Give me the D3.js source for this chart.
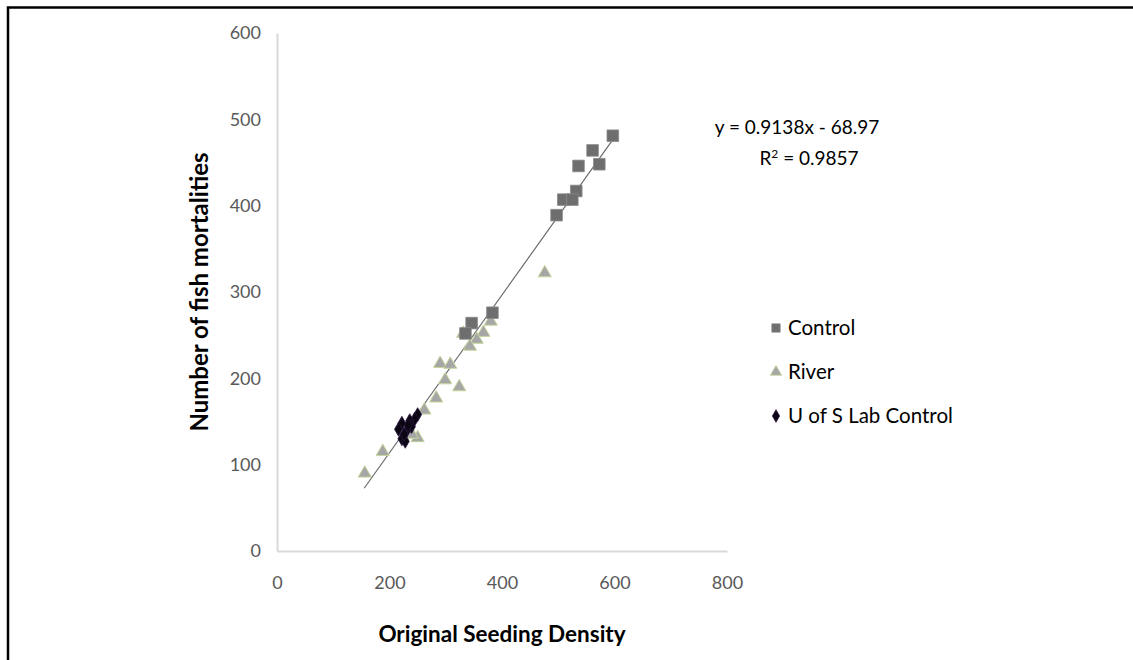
<!DOCTYPE html>
<html>
<head>
<meta charset="utf-8">
<script src="https://cdn.jsdelivr.net/npm/d3@7"></script>
<style>
  body { margin: 0; background: #fff; }
  text { font-family: Lato, "Open Sans", sans-serif; }
</style>
</head>
<body>
<div class="canvas"></div>
<script>
// Data
const controlPts = [[597,481],[561,464],[536,446],[573,448],[532,417],[509,407],[525,407],[497,389],[383,276],[346,264],[335,252]];
const riverPts = [[476,322],[380,266],[367,253],[355,245],[343,237],[331,252],[290,217],[308,216],[299,198],[324,190],[283,177],[262,163],[250,131],[240,135],[188,115],[156,90]];
const labPts = [[250,158],[245,153],[236,151],[239,144],[222,148],[231,140],[216,141],[222,130],[228,127],[226,135],[233,146]];
const xTicks = [0, 200, 400, 600, 800];
const yTicks = [0, 100, 200, 300, 400, 500, 600];
const trendSlope = 0.9138;
const trendIntercept = -68.97;
const trendRange = [155, 597];
const legendNames = ['Control', 'River', 'U of S Lab Control'];

// Graph set up
const svgWidth = 1133;
const svgHeight = 660;
const margin = {top: 33, right: 406, bottom: 109, left: 277};
const graphWidth = svgWidth - margin.left - margin.right;
const graphHeight = svgHeight - margin.top - margin.bottom;

const svg = d3.select('.canvas')
    .append('svg')
    .attr('width', svgWidth)
    .attr('height', svgHeight);

// outer frame (top and left edges visible)
svg.append('path')
    .attr('d', 'M8,662 L8,7.5 L1140,7.5')
    .attr('fill', 'none')
    .attr('stroke', '#000')
    .attr('stroke-width', 2.5);

const graph = svg.append('g')
    .attr('transform', `translate(${margin.left},${margin.top})`);

// Scales
const x = d3.scaleLinear().domain([0, 800]).range([0, graphWidth]);
const y = d3.scaleLinear().domain([0, 600]).range([graphHeight, 0]);

// Axes
const xAxis = d3.axisBottom(x).tickValues(xTicks).tickSize(0).tickPadding(25);
const yAxis = d3.axisLeft(y).tickValues(yTicks).tickSize(0).tickPadding(16);

const xAxisGroup = graph.append('g')
    .attr('transform', `translate(0,${graphHeight})`)
    .call(xAxis);
const yAxisGroup = graph.append('g').call(yAxis);

[xAxisGroup, yAxisGroup].forEach(g => {
    g.select('.domain').attr('stroke', '#d9d9d9').attr('stroke-width', 2);
    g.selectAll('text')
        .attr('fill', '#595959')
        .style('font-size', '18px');
});

// Axis titles
svg.append('text')
    .attr('x', margin.left + graphWidth / 2)
    .attr('y', 642)
    .attr('text-anchor', 'middle')
    .style('font-size', '22.5px')
    .style('font-weight', 'bold')
    .attr('fill', '#000')
    .text('Original Seeding Density');

svg.append('text')
    .attr('transform', `translate(208,${margin.top + 259}) rotate(-90)`)
    .attr('text-anchor', 'middle')
    .style('font-size', '24px')
    .style('font-weight', 'bold')
    .attr('fill', '#000')
    .text('Number of fish mortalities');

// Trend line
const line = d3.line()
    .x(d => x(d))
    .y(d => y(trendSlope * d + trendIntercept));

graph.append('path')
    .datum(trendRange)
    .attr('d', line)
    .attr('fill', 'none')
    .attr('stroke', '#6b6b6b')
    .attr('stroke-width', 1.2);

// Markers
const squareSym = d3.symbol().type(d3.symbolSquare).size(135);
const triSym = d3.symbol().type(d3.symbolTriangle).size(75);
const diamondSym = d3.symbol().type(d3.symbolDiamond).size(55);

graph.selectAll('.river')
    .data(riverPts)
    .enter()
    .append('path')
        .attr('class', 'river')
        .attr('d', triSym)
        .attr('transform', d => `translate(${x(d[0])},${y(d[1])})`)
        .attr('fill', '#a6a6a6')
        .attr('stroke', '#c4d79b')
        .attr('stroke-width', 1);

graph.selectAll('.control')
    .data(controlPts)
    .enter()
    .append('path')
        .attr('class', 'control')
        .attr('d', squareSym)
        .attr('transform', d => `translate(${x(d[0])},${y(d[1])})`)
        .attr('fill', '#6e6e6e')
        .attr('stroke', '#8a8a8a')
        .attr('stroke-width', 0.8);

graph.selectAll('.lab')
    .data(labPts)
    .enter()
    .append('path')
        .attr('class', 'lab')
        .attr('d', diamondSym)
        .attr('transform', d => `translate(${x(d[0])},${y(d[1])})`)
        .attr('fill', '#0b0612')
        .attr('stroke', '#2a1540')
        .attr('stroke-width', 0.8);

// Equation
svg.append('text')
    .attr('x', 797)
    .attr('y', 134)
    .attr('text-anchor', 'middle')
    .style('font-size', '19px')
    .attr('fill', '#000')
    .text('y = 0.9138x - 68.97');

const r2 = svg.append('text')
    .attr('x', 809)
    .attr('y', 165)
    .attr('text-anchor', 'middle')
    .style('font-size', '19px')
    .attr('fill', '#000');
r2.append('tspan').text('R');
r2.append('tspan').attr('dy', -7).style('font-size', '12px').text('2');
r2.append('tspan').attr('dy', 7).text(' = 0.9857');

// Legend
const legend = svg.append('g').attr('transform', 'translate(776,328)');
const legendSyms = [
    {sym: d3.symbol().type(d3.symbolSquare).size(70), fill: '#6e6e6e', stroke: '#8a8a8a'},
    {sym: d3.symbol().type(d3.symbolTriangle).size(55), fill: '#a6a6a6', stroke: '#c4d79b'},
    {sym: d3.symbol().type(d3.symbolDiamond).size(45), fill: '#0b0612', stroke: '#2a1540'}
];

legendNames.forEach((name, i) => {
    const row = legend.append('g').attr('transform', `translate(0,${i * 44})`);
    row.append('path')
        .attr('d', legendSyms[i].sym)
        .attr('fill', legendSyms[i].fill)
        .attr('stroke', legendSyms[i].stroke)
        .attr('stroke-width', 0.8);
    row.append('text')
        .attr('x', 12)
        .attr('y', 7)
        .style('font-size', '20.5px')
        .attr('fill', '#000')
        .text(name);
});
</script>
</body>
</html>
